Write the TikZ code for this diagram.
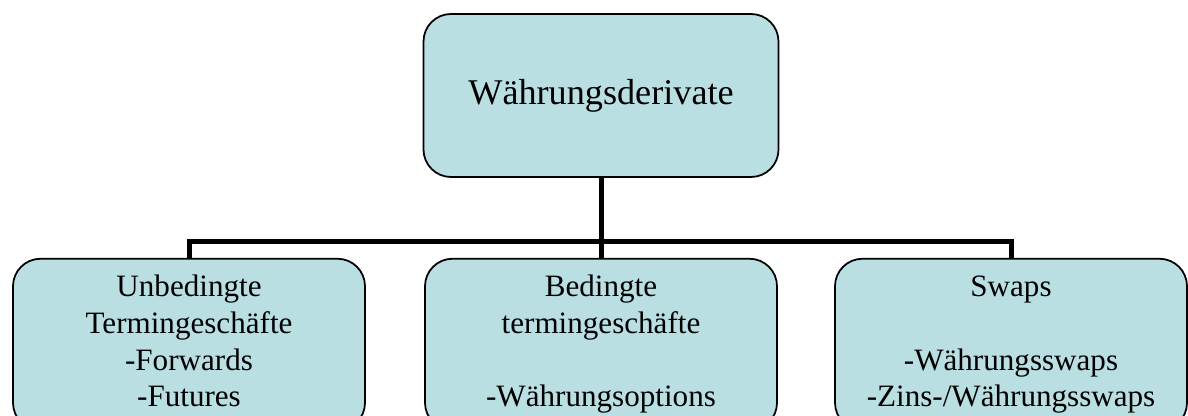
\documentclass[tikz,border=0pt]{standalone}
\usepackage{fontspec}
\setmainfont{Liberation Serif}
\usetikzlibrary{calc}
\definecolor{boxblue}{RGB}{186,223,227}
\tikzset{
	topbox/.style={draw=black, line width=1pt, fill=boxblue, rounded corners=0.55cm, minimum width=7.1cm, minimum height=3.26cm, font=\fontsize{20.6}{23.7}\selectfont},
	subbox/.style={draw=black, line width=1pt, fill=boxblue, rounded corners=0.55cm, minimum width=7.04cm, minimum height=3.43cm, align=center, font=\fontsize{17.7}{20.8}\selectfont},
	conn/.style={line width=1mm}
}

\begin{document}
\begin{tikzpicture}
			%%%%% START %%%%%
			
			\useasboundingbox (0, 0) rectangle (23.76, -8.32);
			
			\node[topbox] (deriv) at (12.02, -1.91) {Währungsderivate};
			
			\node[subbox] (unbed) at (3.78, -6.89) {\strut Unbedingte\\\strut Termingeschäfte\\\strut -Forwards\\\strut -Futures};
			\node[subbox] (bed) at (12.02, -6.89) {\strut Bedingte\\\strut termingeschäfte\\\strut \\\strut -Währungsoptions};
			\node[subbox] (swaps) at (20.22, -6.89) {\strut Swaps\\\strut \\\strut -Währungsswaps\\\strut -Zins-/Währungsswaps};
			
			\coordinate (bus) at (0, -4.84);
			
			\draw[conn] (deriv.south) -- (bed.north);
			\draw[conn] (unbed.north) |- (swaps.north |- bus) -- (swaps.north);
			
			%%%%% END %%%%%
\end{tikzpicture}
\end{document}
